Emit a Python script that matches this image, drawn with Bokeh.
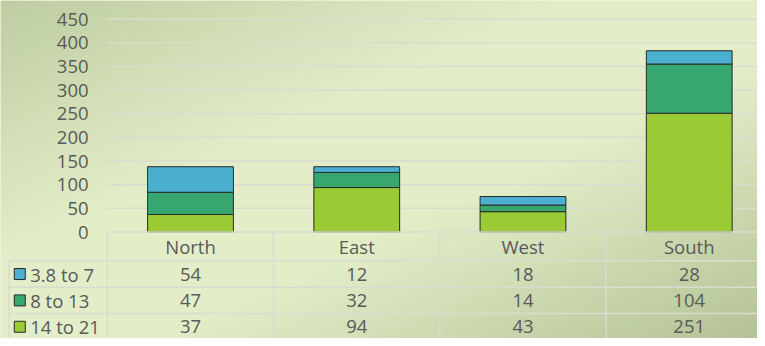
import numpy as np
from bokeh.plotting import figure
from bokeh.models import Range1d, ColumnDataSource
from bokeh.core.properties import value
from bokeh.embed import file_html
from bokeh.resources import INLINE

# ---- data ----
regions = ["North", "East", "West", "South"]
series = ["14 to 21", "8 to 13", "3.8 to 7"]          # stacking order bottom -> top
s_14_21 = [37, 94, 43, 251]
s_8_13 = [47, 32, 14, 104]
s_38_7 = [54, 12, 18, 28]
y_ticks = [0, 50, 100, 150, 200, 250, 300, 350, 400, 450]
table_rows = ["3.8 to 7", "8 to 13", "14 to 21"]       # table order top -> bottom

colors = {"3.8 to 7": "#4bafd0", "8 to 13": "#37a76f", "14 to 21": "#9acb34"}
values = {"3.8 to 7": s_38_7, "8 to 13": s_8_13, "14 to 21": s_14_21}

# ---- layout constants (reference-image pixel geometry) ----
W, H = 757, 338          # figure size (fits the window with the 8px page margin)
RW, RH = 765.0, 346.0    # reference image size mapped onto the figure
COL = 168.0
X0 = 108.0            # x of first column boundary
Y0 = 237.0            # y of value 0
PX = 218.0 / 450.0    # pixels per unit

def dx(rx):
    return (rx - X0) / COL

def dy(ry):
    return (Y0 - ry) / PX

FONT = value("Open Sans")
TXT = "#595959"
FS = "18.5px"
LINE = "#d9dccf"

p = figure(width=W, height=H, output_backend="svg", toolbar_location=None,
           x_axis_type=None, y_axis_type=None, min_border=0,
           x_range=Range1d(dx(0), dx(RW)),
           y_range=Range1d(dy(RH), dy(0)))
p.outline_line_color = None
p.xgrid.visible = False
p.ygrid.visible = False
p.background_fill_color = "#e2edc7"
p.border_fill_color = "#e2edc7"

# ---- background gradient ----
gh, gw = 173, 383
yy, xx = np.mgrid[0:gh, 0:gw]
ref_x = (xx + 0.5) * RW / gw
ref_y = RH - (yy + 0.5) * RH / gh     # row 0 is bottom
t = (ref_x / RW + ref_y / RH) / 2.0
c_tl = np.array([190, 205, 162], float)
c_mid = np.array([227, 238, 201], float)
c_br = np.array([180, 195, 150], float)
a = np.clip(t / 0.38, 0, 1)[..., None]
b = np.clip((t - 0.6) / 0.4, 0, 1)[..., None]
img = c_tl + (c_mid - c_tl) * a
img = img + (c_br - c_mid) * b
rgba = np.empty((gh, gw), dtype=np.uint32)
view = rgba.view(dtype=np.uint8).reshape((gh, gw, 4))
view[..., :3] = np.clip(img, 0, 255).astype(np.uint8)
view[..., 3] = 255
p.image_rgba(image=[rgba], x=dx(0), y=dy(RH), dw=dx(RW) - dx(0),
             dh=dy(0) - dy(RH))

# ---- grid lines ----
gt = [v for v in y_ticks if v > 0]
p.segment(x0=[dx(X0)] * len(gt), x1=[dx(780)] * len(gt), y0=gt, y1=gt,
          line_color=LINE, line_width=1.5)

# ---- bars ----
xs = [i + 0.5 for i in range(len(regions))]
src = ColumnDataSource(dict(x=xs, **{s: values[s] for s in series}))
p.vbar_stack(series, x="x", width=0.516, source=src,
             color=[colors[s] for s in series],
             line_color="#2a2a2a", line_width=1)

# ---- y tick labels ----
p.text(x=[dx(89)] * len(y_ticks), y=y_ticks, text=[str(v) for v in y_ticks],
       text_font=FONT, text_font_size=FS, text_color=TXT,
       text_align="right", text_baseline="middle")

# ---- data table ----
row_b = [237, 266.5, 293.5, 320.5, 347.5]
p.segment(x0=[dx(X0)], x1=[dx(780)], y0=[dy(row_b[0])], y1=[dy(row_b[0])],
          line_color=LINE, line_width=1.5)
p.segment(x0=[dx(8)] * 4, x1=[dx(780)] * 4, y0=[dy(v) for v in row_b[1:]],
          y1=[dy(v) for v in row_b[1:]], line_color=LINE, line_width=1.5)
vx = [X0 + COL * i for i in range(len(regions) + 1)]
p.segment(x0=[dx(v) for v in vx], x1=[dx(v) for v in vx],
          y0=[dy(row_b[0])] * len(vx), y1=[dy(row_b[-1])] * len(vx),
          line_color=LINE, line_width=1.5)
p.segment(x0=[dx(8.5)], x1=[dx(8.5)], y0=[dy(row_b[1])], y1=[dy(row_b[-1])],
          line_color=LINE, line_width=1.5)

centers = [(row_b[i] + row_b[i + 1]) / 2 for i in range(4)]
p.text(x=xs, y=[dy(centers[0])] * len(regions), text=regions,
       text_font=FONT, text_font_size=FS, text_color=TXT,
       text_align="center", text_baseline="middle")
for r, name in enumerate(table_rows):
    yc = dy(centers[r + 1])
    p.text(x=xs, y=[yc] * len(regions), text=[str(v) for v in values[name]],
           text_font=FONT, text_font_size=FS, text_color=TXT,
           text_align="center", text_baseline="middle")
    p.scatter(x=[dx(19.5)], y=[yc], marker="square", size=11,
              fill_color=colors[name], line_color="#2a2a2a", line_width=1)
    p.text(x=[dx(30)], y=[yc], text=[name],
           text_font=FONT, text_font_size=FS, text_color=TXT,
           text_align="left", text_baseline="middle")

open("out.html", "w").write(file_html(p, INLINE))
